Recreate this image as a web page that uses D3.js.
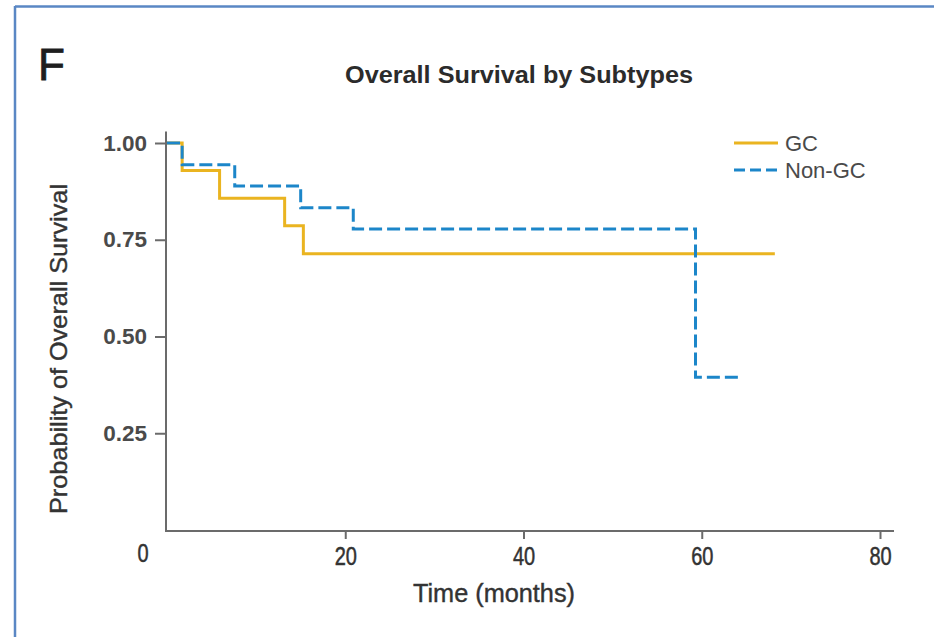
<!DOCTYPE html>
<html>
<head>
<meta charset="utf-8">
<script src="https://cdn.jsdelivr.net/npm/d3@7"></script>
<style>
  html, body { margin: 0; padding: 0; background: #fff; }
  svg { display: block; }
</style>
</head>
<body>
<svg id="chart" width="934" height="637"></svg>
<script>
// Kaplan–Meier steps: [time in months, survival probability]
const gcSteps = [[0, 1.0], [1.7, 0.929], [5.9, 0.857], [13.2, 0.786], [15.3, 0.714]];
const gcEnd = 68.2;
const nonGcSteps = [[0, 1.0], [1.7, 0.944], [7.6, 0.889], [15.0, 0.833], [20.9, 0.778], [59.3, 0.395]];
const nonGcEnd = 64.2;

const xTicks = [20, 40, 60, 80];
const yTicks = [0.25, 0.5, 0.75, 1.0];
const seriesNames = ["GC", "Non-GC"];
const seriesColors = ["#eab420", "#1c86c9"];

const svg = d3.select("#chart");

// Panel frame (top and left rule)
svg.append("line").attr("x1", 15).attr("x2", 934).attr("y1", 6.5).attr("y2", 6.5)
  .attr("stroke", "#5a87c4").attr("stroke-width", 2.5);
svg.append("line").attr("x1", 15).attr("x2", 15).attr("y1", 6).attr("y2", 637)
  .attr("stroke", "#5a87c4").attr("stroke-width", 2.5);

const x = d3.scaleLinear().domain([0, 80]).range([167, 880]);
const y = d3.scaleLinear().domain([0, 1]).range([530, 143]);

const narrow = "'Liberation Sans Narrow', 'Arial Narrow', 'Liberation Sans', Arial, sans-serif";
const regular = "'Liberation Sans', Arial, Helvetica, sans-serif";

// Panel letter
svg.append("text").attr("x", 38).attr("y", 80)
  .attr("font-family", regular).attr("font-size", 44).attr("fill", "#1e1e1e")
  .attr("stroke", "#1e1e1e").attr("stroke-width", 0.8)
  .text("F");

// Title
svg.append("text").attr("x", 519).attr("y", 83).attr("text-anchor", "middle")
  .attr("font-family", narrow).attr("font-weight", "bold").attr("font-size", 23)
  .attr("fill", "#2b2b2b")
  .attr("textLength", 348).attr("lengthAdjust", "spacingAndGlyphs")
  .text("Overall Survival by Subtypes");

// Y axis
const yAxis = svg.append("g").attr("transform", "translate(166,0)")
  .call(d3.axisLeft(y).tickValues(yTicks).tickFormat(d3.format(".2f")).tickSize(11).tickPadding(8));
yAxis.select(".domain").attr("d", `M0,${y(1.03)}V531`);
yAxis.selectAll("path, line").attr("stroke", "#6b6b6b").attr("stroke-width", 2);
yAxis.selectAll("text").attr("font-family", regular).attr("font-size", 22.5)
  .attr("fill", "#4a4a4a").attr("font-weight", "bold").attr("stroke", "none");

// X axis (condensed numerals)
const xAxis = svg.append("g").attr("transform", "translate(0,531)")
  .call(d3.axisBottom(x).tickValues(xTicks).tickFormat(d3.format("d")).tickSize(8).tickPadding(6));
xAxis.select(".domain").attr("d", "M165,0H894");
xAxis.selectAll("path, line").attr("stroke", "#6b6b6b").attr("stroke-width", 2);
xAxis.selectAll("text").attr("font-family", narrow).attr("font-size", 25)
  .attr("fill", "#333").attr("stroke", "#333").attr("stroke-width", 0.5)
  .attr("dy", "0.8em")
  .attr("transform", "scale(0.8,1)");

// Shared origin label
svg.append("text").attr("transform", `translate(${x(0) - 24},562) scale(0.8,1)`)
  .attr("text-anchor", "middle")
  .attr("font-family", narrow).attr("font-size", 25)
  .attr("fill", "#333").attr("stroke", "#333").attr("stroke-width", 0.5)
  .text("0");

// Axis titles
svg.append("text").attr("x", 494).attr("y", 602).attr("text-anchor", "middle")
  .attr("font-family", narrow).attr("font-size", 26)
  .attr("fill", "#333").attr("stroke", "#333").attr("stroke-width", 0.4)
  .attr("textLength", 162).attr("lengthAdjust", "spacingAndGlyphs")
  .text("Time (months)");

svg.append("text").attr("transform", "translate(67,349) rotate(-90)")
  .attr("text-anchor", "middle")
  .attr("font-family", narrow).attr("font-size", 24)
  .attr("fill", "#333").attr("stroke", "#333").attr("stroke-width", 0.4)
  .attr("textLength", 330).attr("lengthAdjust", "spacingAndGlyphs")
  .text("Probability of Overall Survival");

// Survival curves
function stepPoints(steps, end) {
  const pts = steps.map(d => ({ t: d[0], s: d[1] }));
  pts.push({ t: end, s: steps[steps.length - 1][1] });
  return pts;
}
const line = d3.line().x(d => x(d.t)).y(d => y(d.s)).curve(d3.curveStepAfter);

svg.append("path").datum(stepPoints(gcSteps, gcEnd))
  .attr("d", line).attr("fill", "none")
  .attr("stroke", seriesColors[0]).attr("stroke-width", 3);

svg.append("path").datum(stepPoints(nonGcSteps, nonGcEnd))
  .attr("d", line).attr("fill", "none")
  .attr("stroke", seriesColors[1]).attr("stroke-width", 3)
  .attr("stroke-dasharray", "13,5");

// Legend
const legend = svg.append("g");
seriesNames.forEach((name, i) => {
  const ly = 143 + i * 27;
  legend.append("line").attr("x1", 734).attr("x2", 778).attr("y1", ly).attr("y2", ly)
    .attr("stroke", seriesColors[i]).attr("stroke-width", 3)
    .attr("stroke-dasharray", i === 1 ? "11,5" : null);
  legend.append("text").attr("x", 785).attr("y", ly + 8)
    .attr("font-family", regular).attr("font-size", 22).attr("fill", "#4a4a4a")
    .text(name);
});
</script>
</body>
</html>
